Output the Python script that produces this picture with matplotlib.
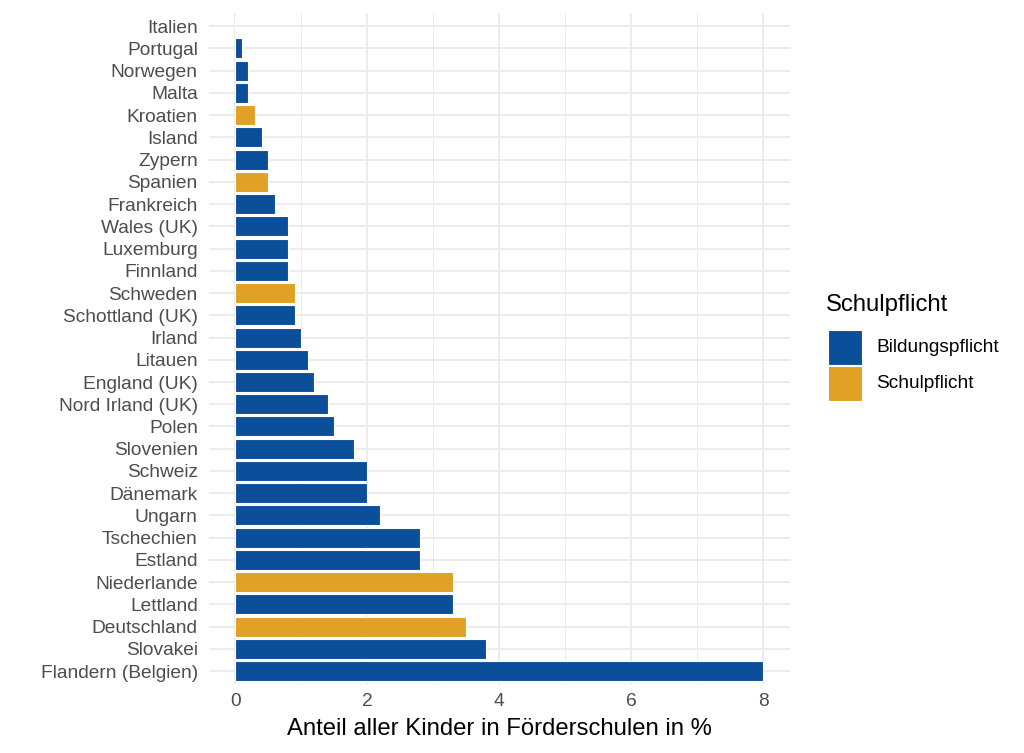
import numpy as np
import matplotlib.pyplot as plt
from matplotlib.patches import Rectangle

# data, bottom to top as drawn
countries = ["Flandern (Belgien)", "Slovakei", "Deutschland", "Lettland", "Niederlande",
             "Estland", "Tschechien", "Ungarn", "Dänemark", "Schweiz", "Slovenien",
             "Polen", "Nord Irland (UK)", "England (UK)", "Litauen", "Irland",
             "Schottland (UK)", "Schweden", "Finnland", "Luxemburg", "Wales (UK)",
             "Frankreich", "Spanien", "Zypern", "Island", "Kroatien", "Malta",
             "Norwegen", "Portugal", "Italien"]
values = [8.0, 3.8, 3.5, 3.3, 3.3, 2.8, 2.8, 2.2, 2.0, 2.0, 1.8, 1.5, 1.4, 1.2, 1.1,
          1.0, 0.9, 0.9, 0.8, 0.8, 0.8, 0.6, 0.5, 0.5, 0.4, 0.3, 0.2, 0.2, 0.1, 0.0]
pflicht = ["B", "B", "S", "B", "S", "B", "B", "B", "B", "B", "B", "B", "B", "B", "B",
           "B", "B", "S", "B", "B", "B", "B", "S", "B", "B", "S", "B", "B", "B", "B"]
legend_keys = ["B", "S"]
legend_labels = {"B": "Bildungspflicht", "S": "Schulpflicht"}
colors = {"B": "#0B4E99", "S": "#E0A126"}

plt.rcParams['font.family'] = ['Liberation Sans', 'DejaVu Sans']

W, H = 1024, 753
fig = plt.figure(figsize=(W / 100, H / 100), dpi=100)
ax = fig.add_axes([0.204, 0.091, 0.567, 0.892])

y = np.arange(len(countries))
ax.barh(y, values, height=0.9, color=[colors[p] for p in pflicht],
        edgecolor="white", linewidth=0.8, zorder=3)

ax.set_yticks(y)
ax.set_yticklabels(countries, fontsize=13.8, color="#4D4D4D")
ax.set_xticks([0, 2, 4, 6, 8])
ax.set_xticks([1, 3, 5, 7], minor=True)
ax.tick_params(axis="x", labelsize=13.8, labelcolor="#4D4D4D", pad=6)
ax.tick_params(axis="y", pad=8)
ax.tick_params(length=0, which="both")
ax.set_xlim(-0.4, 8.4)
ax.set_ylim(-0.6, len(countries) - 0.4)

ax.grid(True, which="major", color="#EBEBEB", linewidth=1.3, zorder=0)
ax.grid(True, which="minor", axis="x", color="#EBEBEB", linewidth=0.7, zorder=0)
ax.set_axisbelow(True)
for s in ax.spines.values():
    s.set_visible(False)

ax.set_xlabel("Anteil aller Kinder in Förderschulen in %", fontsize=17.2, labelpad=6)

# legend, drawn by hand (pixel positions from the top-left)
fig.text(826 / W, 1 - 305 / H, "Schulpflicht", fontsize=17.2, va="center", ha="left")
for i, k in enumerate(legend_keys):
    top = 330 + i * 36
    fig.add_artist(Rectangle((828 / W, 1 - (top + 35) / H), 34 / W, 35 / H,
                             transform=fig.transFigure, facecolor=colors[k],
                             edgecolor="white", linewidth=0.8))
    fig.text(876 / W, 1 - (top + 17.5) / H, legend_labels[k], fontsize=13.8,
             va="center", ha="left")

fig.savefig("out.png", dpi=100)
